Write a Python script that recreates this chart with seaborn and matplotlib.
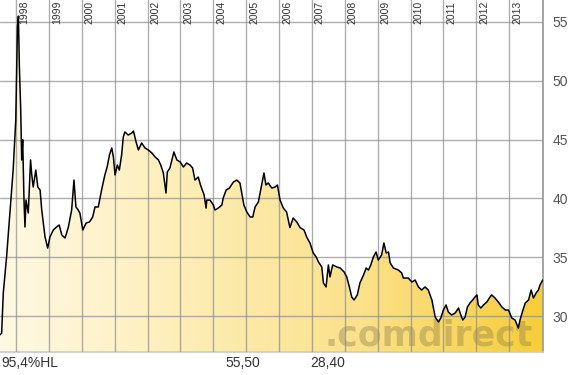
import numpy as np
import matplotlib
matplotlib.use("Agg")
import matplotlib.pyplot as plt
from matplotlib.colors import LinearSegmentedColormap
from matplotlib.patches import Polygon
import seaborn as sns

# price history (decimal year, price)
years = [
    1997.51, 1997.56, 1997.61, 1997.71, 1997.81, 1997.91, 1997.99, 1998.04, 1998.07, 1998.10,
    1998.14, 1998.17, 1998.20, 1998.24, 1998.27, 1998.30, 1998.37, 1998.44, 1998.47, 1998.52,
    1998.60, 1998.66, 1998.73, 1998.78, 1998.88, 1998.96, 1999.03, 1999.13, 1999.23, 1999.31,
    1999.39, 1999.49, 1999.59, 1999.69, 1999.76, 1999.82, 1999.89, 1999.94, 2000.03, 2000.13,
    2000.23, 2000.33, 2000.40, 2000.50, 2000.60, 2000.70, 2000.77, 2000.84, 2000.91, 2000.96,
    2001.01, 2001.08, 2001.14, 2001.21, 2001.26, 2001.31, 2001.41, 2001.52, 2001.57, 2001.65,
    2001.72, 2001.82, 2001.92, 2002.02, 2002.13, 2002.23, 2002.33, 2002.40, 2002.48, 2002.56,
    2002.60, 2002.68, 2002.76, 2002.80, 2002.89, 2002.99, 2003.09, 2003.19, 2003.29, 2003.37,
    2003.44, 2003.54, 2003.61, 2003.72, 2003.78, 2003.80, 2003.90, 2004.00, 2004.05, 2004.15,
    2004.26, 2004.30, 2004.39, 2004.49, 2004.61, 2004.71, 2004.81, 2004.86, 2004.93, 2005.02,
    2005.12, 2005.20, 2005.27, 2005.37, 2005.47, 2005.54, 2005.60, 2005.67, 2005.78, 2005.88,
    2005.95, 2006.03, 2006.13, 2006.23, 2006.33, 2006.43, 2006.54, 2006.64, 2006.76, 2006.84,
    2006.94, 2007.04, 2007.13, 2007.20, 2007.30, 2007.35, 2007.43, 2007.50, 2007.55, 2007.63,
    2007.76, 2007.86, 2007.98, 2008.06, 2008.14, 2008.21, 2008.28, 2008.38, 2008.46, 2008.57,
    2008.65, 2008.72, 2008.79, 2008.87, 2008.95, 2009.02, 2009.12, 2009.19, 2009.26, 2009.33,
    2009.38, 2009.48, 2009.63, 2009.73, 2009.78, 2009.93, 2010.04, 2010.14, 2010.24, 2010.34,
    2010.44, 2010.54, 2010.65, 2010.75, 2010.85, 2010.92, 2011.00, 2011.08, 2011.15, 2011.25,
    2011.36, 2011.46, 2011.53, 2011.59, 2011.66, 2011.73, 2011.81, 2011.89, 2011.96, 2012.02,
    2012.06, 2012.14, 2012.22, 2012.32, 2012.42, 2012.47, 2012.57, 2012.67, 2012.78, 2012.88,
    2012.98, 2013.08, 2013.18, 2013.28, 2013.33, 2013.42, 2013.49, 2013.59, 2013.67, 2013.74,
    2013.82, 2013.89, 2013.94, 2014.02,
]
prices = [
    28.40, 28.55, 31.96, 35.02, 38.76, 42.41, 46.67, 54.57, 55.50, 51.17,
    47.52, 43.27, 45.00, 39.86, 37.57, 39.86, 38.76, 43.27, 42.16, 40.97,
    42.41, 40.97, 40.71, 39.01, 36.72, 35.78, 36.72, 37.31, 37.57, 37.74,
    36.89, 36.63, 37.57, 39.01, 41.56, 39.27, 39.01, 38.76, 37.31, 37.91,
    37.99, 38.42, 39.27, 39.27, 40.71, 41.99, 42.67, 43.69, 44.29, 43.52,
    41.99, 42.84, 42.41, 43.69, 45.22, 45.65, 45.39, 45.56, 45.73, 44.80,
    44.12, 44.71, 44.29, 44.12, 43.86, 43.52, 43.27, 42.84, 42.16, 40.46,
    42.24, 42.59, 43.52, 43.95, 43.27, 43.10, 42.67, 43.01, 42.84, 42.59,
    41.56, 41.82, 41.14, 40.29, 39.18, 39.86, 39.86, 39.44, 39.01, 39.18,
    39.44, 40.03, 40.71, 40.88, 41.39, 41.56, 41.31, 40.54, 39.44, 38.84,
    38.42, 38.42, 39.27, 39.69, 41.14, 42.16, 41.14, 41.31, 40.88, 40.97,
    41.14, 39.86, 39.18, 38.84, 37.52, 38.33, 37.99, 37.52, 37.31, 36.72,
    36.21, 35.36, 35.02, 34.59, 34.17, 32.81, 32.47, 34.34, 33.32, 34.34,
    34.17, 34.08, 33.74, 33.32, 32.47, 31.62, 31.36, 31.79, 32.81, 33.49,
    34.08, 33.91, 34.34, 35.02, 35.44, 34.76, 35.19, 36.21, 35.36, 35.44,
    34.51, 34.08, 33.91, 33.66, 33.23, 33.23, 32.89, 33.06, 32.47, 32.21,
    32.47, 32.21, 31.36, 29.91, 29.49, 29.83, 30.51, 30.94, 30.34, 30.09,
    30.26, 30.68, 30.09, 29.66, 29.91, 30.77, 31.11, 31.36, 31.62, 31.79,
    30.94, 30.68, 30.94, 31.19, 31.62, 31.79, 31.53, 31.19, 30.77, 30.51,
    30.51, 29.83, 29.66, 28.98, 29.66, 30.51, 31.11, 31.36, 32.21, 31.53,
    31.96, 32.21, 32.64, 33.06,
]

year_labels = [str(y) for y in range(1998, 2014)]
price_ticks = [30, 35, 40, 45, 50, 55]
footer = ["95,4%HL", "55,50", "28,40"]

x_lo, x_hi = 1997.51, 2014.03
y_lo, y_hi = 26.94, 56.87

sns.set_theme(style="white")
plt.rcParams['font.family'] = ['Liberation Sans', 'DejaVu Sans']

fig = plt.figure(figsize=(5.71, 3.75), dpi=100)
ax = fig.add_axes([0, 23 / 375, 543 / 571, 352 / 375])
ax.set_xlim(x_lo, x_hi)
ax.set_ylim(y_lo, y_hi)

# gradient fill under the curve
cmap = LinearSegmentedColormap.from_list(
    "cd", ["#fff9e4", "#fdeeb8", "#fbe18a", "#f7cd3a"])
grad = np.linspace(0, 1, 256).reshape(1, -1)
im = ax.imshow(grad, cmap=cmap, aspect="auto", extent=[x_lo, x_hi, y_lo, y_hi],
               origin="lower", zorder=1)
verts = list(zip(years, prices)) + [(years[-1], y_lo), (years[0], y_lo)]
poly = Polygon(verts, closed=True, transform=ax.transData,
               facecolor="none", edgecolor="none")
ax.add_patch(poly)
im.set_clip_path(poly)

# watermark
ax.text(325 / 543, 7 / 352, ".comdirect", transform=ax.transAxes,
        family="DejaVu Sans", fontweight="bold", fontsize=25,
        color="#8a7c4a", alpha=0.38, ha="left", va="baseline", zorder=1.5)

sns.lineplot(x=years, y=prices, color="black", linewidth=1.1,
             estimator=None, ax=ax, zorder=3)

# grid
ax.set_xticks(range(1998, 2014))
ax.set_xticklabels([])
ax.tick_params(axis="x", length=0)
ax.set_yticks(price_ticks)
ax.yaxis.tick_right()
ax.tick_params(axis="y", length=0, pad=7, labelsize=10, labelcolor="#555555")
ax.set_axisbelow(False)
ax.grid(True, color="#8c8c8c", linewidth=1, alpha=0.7)

for side in ["top", "left"]:
    ax.spines[side].set_visible(False)
ax.spines["right"].set_color("#999999")
ax.spines["bottom"].set_color("#cccccc")

# year labels across the top
for lab in year_labels:
    ax.text(int(lab) + 0.09, 1 - 1 / 352, lab, transform=ax.get_xaxis_transform(),
            rotation=90, ha="left", va="top", fontsize=7.5, color="#333333",
            zorder=4)

# footer
fig.text(1 / 571, 12 / 375, footer[0], fontsize=10, color="#333333", va="center")
fig.text(225 / 571, 12 / 375, footer[1], fontsize=10, color="#333333", va="center")
fig.text(310 / 571, 12 / 375, footer[2], fontsize=10, color="#333333", va="center")

fig.savefig("out.png", dpi=100)
